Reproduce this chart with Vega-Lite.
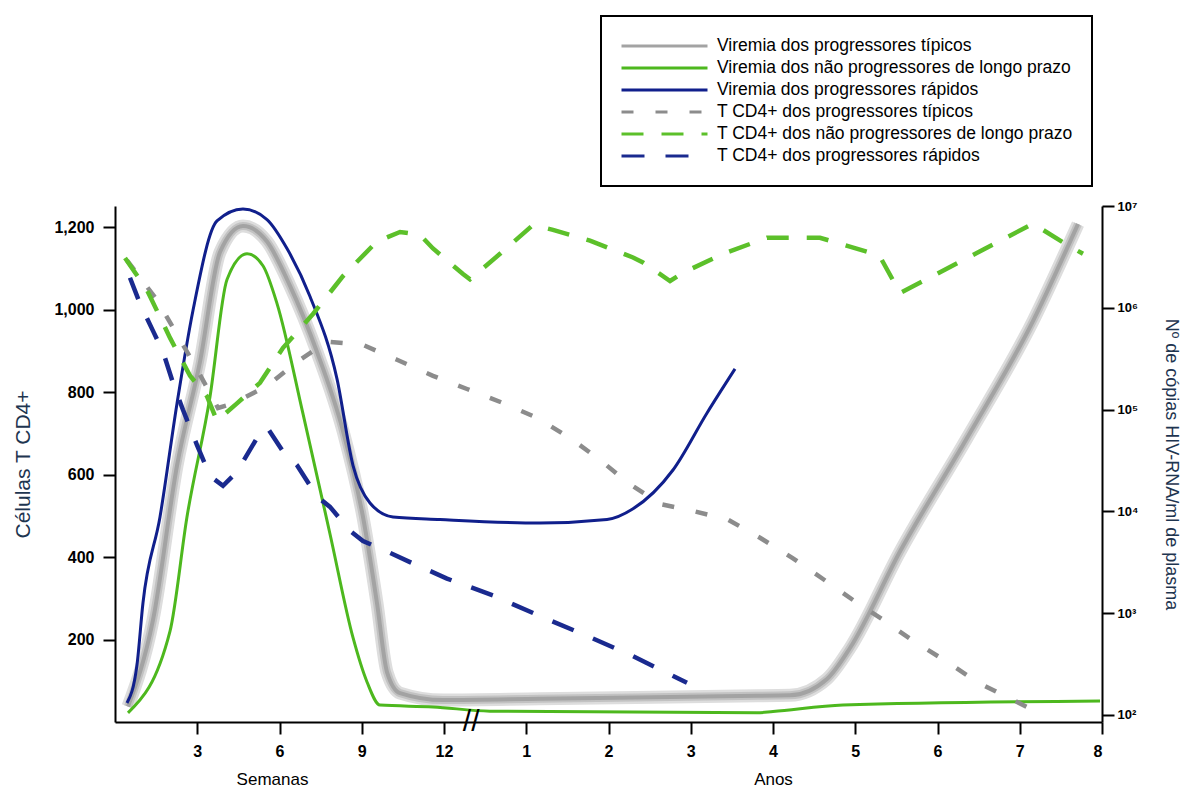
{
  "$schema": "https://vega.github.io/schema/vega-lite/v6.json",
  "width": 987,
  "height": 516,
  "autosize": {"type": "none"},
  "padding": {"left": 115, "top": 206, "right": 80, "bottom": 67},
  "background": "white",
  "config": {
    "font": "Liberation Sans",
    "view": {"stroke": null},
    "axis": {"grid": false, "domainColor": "black", "tickColor": "black", "labelColor": "black", "domainWidth": 2, "tickWidth": 2, "labelFont": "Liberation Sans", "titleFont": "Liberation Sans", "titleFontWeight": "normal"}
  },
  "datasets": {
    "viremia": [
      {"serie": "Viremia dos progressores típicos", "pos": 0.158, "copias": 121},
      {"serie": "Viremia dos progressores típicos", "pos": 0.462, "copias": 858},
      {"serie": "Viremia dos progressores típicos", "pos": 0.754, "copias": 28200},
      {"serie": "Viremia dos progressores típicos", "pos": 1.033, "copias": 294000},
      {"serie": "Viremia dos progressores típicos", "pos": 1.277, "copias": 3530000},
      {"serie": "Viremia dos progressores típicos", "pos": 1.556, "copias": 6350000},
      {"serie": "Viremia dos progressores típicos", "pos": 1.848, "copias": 4470000},
      {"serie": "Viremia dos progressores típicos", "pos": 2.128, "copias": 1640000},
      {"serie": "Viremia dos progressores típicos", "pos": 2.456, "copias": 368000},
      {"serie": "Viremia dos progressores típicos", "pos": 2.772, "copias": 61700},
      {"serie": "Viremia dos progressores típicos", "pos": 3.015, "copias": 8810},
      {"serie": "Viremia dos progressores típicos", "pos": 3.185, "copias": 1260},
      {"serie": "Viremia dos progressores típicos", "pos": 3.307, "copias": 264},
      {"serie": "Viremia dos progressores típicos", "pos": 3.465, "copias": 164},
      {"serie": "Viremia dos progressores típicos", "pos": 3.988, "copias": 140},
      {"serie": "Viremia dos progressores típicos", "pos": 5.167, "copias": 144},
      {"serie": "Viremia dos progressores típicos", "pos": 7.599, "copias": 154},
      {"serie": "Viremia dos progressores típicos", "pos": 8.207, "copias": 156},
      {"serie": "Viremia dos progressores típicos", "pos": 8.657, "copias": 226},
      {"serie": "Viremia dos progressores típicos", "pos": 8.936, "copias": 455},
      {"serie": "Viremia dos progressores típicos", "pos": 9.544, "copias": 4030},
      {"serie": "Viremia dos progressores típicos", "pos": 10.359, "copias": 52600},
      {"serie": "Viremia dos progressores típicos", "pos": 11.161, "copias": 741000},
      {"serie": "Viremia dos progressores típicos", "pos": 11.708, "copias": 6650000},
      {"serie": "Viremia dos progressores rápidos", "pos": 0.146, "copias": 131},
      {"serie": "Viremia dos progressores rápidos", "pos": 0.267, "copias": 310},
      {"serie": "Viremia dos progressores rápidos", "pos": 0.340, "copias": 1260},
      {"serie": "Viremia dos progressores rápidos", "pos": 0.547, "copias": 8810},
      {"serie": "Viremia dos progressores rápidos", "pos": 0.754, "copias": 115000},
      {"serie": "Viremia dos progressores rápidos", "pos": 0.948, "copias": 942000},
      {"serie": "Viremia dos progressores rápidos", "pos": 1.240, "copias": 7130000},
      {"serie": "Viremia dos progressores rápidos", "pos": 1.556, "copias": 9350000},
      {"serie": "Viremia dos progressores rápidos", "pos": 1.848, "copias": 7350000},
      {"serie": "Viremia dos progressores rápidos", "pos": 2.091, "copias": 3820000},
      {"serie": "Viremia dos progressores rápidos", "pos": 2.371, "copias": 1290000},
      {"serie": "Viremia dos progressores rápidos", "pos": 2.699, "copias": 200000},
      {"serie": "Viremia dos progressores rápidos", "pos": 2.894, "copias": 28200},
      {"serie": "Viremia dos progressores rápidos", "pos": 3.100, "copias": 12100},
      {"serie": "Viremia dos progressores rápidos", "pos": 3.380, "copias": 8810},
      {"serie": "Viremia dos progressores rápidos", "pos": 3.951, "copias": 8320},
      {"serie": "Viremia dos progressores rápidos", "pos": 5.167, "copias": 7690},
      {"serie": "Viremia dos progressores rápidos", "pos": 5.982, "copias": 8320},
      {"serie": "Viremia dos progressores rápidos", "pos": 6.298, "copias": 10600},
      {"serie": "Viremia dos progressores rápidos", "pos": 6.784, "copias": 25500},
      {"serie": "Viremia dos progressores rápidos", "pos": 7.198, "copias": 92700},
      {"serie": "Viremia dos progressores rápidos", "pos": 7.538, "copias": 251000},
      {"serie": "Viremia dos não progressores de longo prazo", "pos": 0.158, "copias": 105},
      {"serie": "Viremia dos não progressores de longo prazo", "pos": 0.669, "copias": 668},
      {"serie": "Viremia dos não progressores de longo prazo", "pos": 0.875, "copias": 8810},
      {"serie": "Viremia dos não progressores de longo prazo", "pos": 1.155, "copias": 134000},
      {"serie": "Viremia dos não progressores de longo prazo", "pos": 1.362, "copias": 1900000},
      {"serie": "Viremia dos não progressores de longo prazo", "pos": 1.605, "copias": 3400000},
      {"serie": "Viremia dos não progressores de longo prazo", "pos": 1.799, "copias": 2590000},
      {"serie": "Viremia dos não progressores de longo prazo", "pos": 1.970, "copias": 1100000},
      {"serie": "Viremia dos não progressores de longo prazo", "pos": 2.286, "copias": 90600},
      {"serie": "Viremia dos não progressores de longo prazo", "pos": 2.614, "copias": 6000},
      {"serie": "Viremia dos não progressores de longo prazo", "pos": 2.894, "copias": 574},
      {"serie": "Viremia dos não progressores de longo prazo", "pos": 3.064, "copias": 211},
      {"serie": "Viremia dos não progressores de longo prazo", "pos": 3.222, "copias": 125},
      {"serie": "Viremia dos não progressores de longo prazo", "pos": 3.866, "copias": 120},
      {"serie": "Viremia dos não progressores de longo prazo", "pos": 4.559, "copias": 109},
      {"serie": "Viremia dos não progressores de longo prazo", "pos": 7.805, "copias": 105},
      {"serie": "Viremia dos não progressores de longo prazo", "pos": 8.000, "copias": 108},
      {"serie": "Viremia dos não progressores de longo prazo", "pos": 8.851, "copias": 125},
      {"serie": "Viremia dos não progressores de longo prazo", "pos": 11.976, "copias": 137}
    ],
    "cd4": [
      {"serie": "T CD4+ dos progressores típicos", "pos": 0.146, "celulas": 1120},
      {"serie": "T CD4+ dos progressores típicos", "pos": 0.511, "celulas": 1024},
      {"serie": "T CD4+ dos progressores típicos", "pos": 0.754, "celulas": 940},
      {"serie": "T CD4+ dos progressores típicos", "pos": 0.973, "celulas": 865},
      {"serie": "T CD4+ dos progressores típicos", "pos": 1.252, "celulas": 762},
      {"serie": "T CD4+ dos progressores típicos", "pos": 1.435, "celulas": 773},
      {"serie": "T CD4+ dos progressores típicos", "pos": 1.848, "celulas": 815},
      {"serie": "T CD4+ dos progressores típicos", "pos": 2.213, "celulas": 874},
      {"serie": "T CD4+ dos progressores típicos", "pos": 2.578, "celulas": 923},
      {"serie": "T CD4+ dos progressores típicos", "pos": 3.015, "celulas": 915},
      {"serie": "T CD4+ dos progressores típicos", "pos": 3.429, "celulas": 879},
      {"serie": "T CD4+ dos progressores típicos", "pos": 3.866, "celulas": 840},
      {"serie": "T CD4+ dos progressores típicos", "pos": 4.280, "celulas": 808},
      {"serie": "T CD4+ dos progressores típicos", "pos": 4.717, "celulas": 774},
      {"serie": "T CD4+ dos progressores típicos", "pos": 5.131, "celulas": 738},
      {"serie": "T CD4+ dos progressores típicos", "pos": 5.532, "celulas": 689},
      {"serie": "T CD4+ dos progressores típicos", "pos": 5.897, "celulas": 636},
      {"serie": "T CD4+ dos progressores típicos", "pos": 6.225, "celulas": 582},
      {"serie": "T CD4+ dos progressores típicos", "pos": 6.626, "celulas": 529},
      {"serie": "T CD4+ dos progressores típicos", "pos": 7.027, "celulas": 512},
      {"serie": "T CD4+ dos progressores típicos", "pos": 7.453, "celulas": 491},
      {"serie": "T CD4+ dos progressores típicos", "pos": 7.842, "celulas": 447},
      {"serie": "T CD4+ dos progressores típicos", "pos": 8.243, "celulas": 397},
      {"serie": "T CD4+ dos progressores típicos", "pos": 8.608, "celulas": 347},
      {"serie": "T CD4+ dos progressores típicos", "pos": 8.973, "celulas": 296},
      {"serie": "T CD4+ dos progressores típicos", "pos": 9.337, "celulas": 248},
      {"serie": "T CD4+ dos progressores típicos", "pos": 9.702, "celulas": 197},
      {"serie": "T CD4+ dos progressores típicos", "pos": 10.116, "celulas": 146},
      {"serie": "T CD4+ dos progressores típicos", "pos": 10.480, "celulas": 97},
      {"serie": "T CD4+ dos progressores típicos", "pos": 11.283, "celulas": 17},
      {"serie": "T CD4+ dos não progressores de longo prazo", "pos": 0.122, "celulas": 1126},
      {"serie": "T CD4+ dos não progressores de longo prazo", "pos": 0.389, "celulas": 1048},
      {"serie": "T CD4+ dos não progressores de longo prazo", "pos": 0.669, "celulas": 932},
      {"serie": "T CD4+ dos não progressores de longo prazo", "pos": 0.912, "celulas": 840},
      {"serie": "T CD4+ dos não progressores de longo prazo", "pos": 1.119, "celulas": 790},
      {"serie": "T CD4+ dos não progressores de longo prazo", "pos": 1.240, "celulas": 731},
      {"serie": "T CD4+ dos não progressores de longo prazo", "pos": 1.483, "celulas": 773},
      {"serie": "T CD4+ dos não progressores de longo prazo", "pos": 1.763, "celulas": 823},
      {"serie": "T CD4+ dos não progressores de longo prazo", "pos": 2.043, "celulas": 908},
      {"serie": "T CD4+ dos não progressores de longo prazo", "pos": 2.407, "celulas": 990},
      {"serie": "T CD4+ dos não progressores de longo prazo", "pos": 2.772, "celulas": 1082},
      {"serie": "T CD4+ dos não progressores de longo prazo", "pos": 3.185, "celulas": 1166},
      {"serie": "T CD4+ dos não progressores de longo prazo", "pos": 3.465, "celulas": 1189},
      {"serie": "T CD4+ dos não progressores de longo prazo", "pos": 3.708, "celulas": 1182},
      {"serie": "T CD4+ dos não progressores de longo prazo", "pos": 3.866, "celulas": 1149},
      {"serie": "T CD4+ dos não progressores de longo prazo", "pos": 4.231, "celulas": 1087},
      {"serie": "T CD4+ dos não progressores de longo prazo", "pos": 4.316, "celulas": 1074},
      {"serie": "T CD4+ dos não progressores de longo prazo", "pos": 4.681, "celulas": 1136},
      {"serie": "T CD4+ dos não progressores de longo prazo", "pos": 5.082, "celulas": 1206},
      {"serie": "T CD4+ dos não progressores de longo prazo", "pos": 5.325, "celulas": 1194},
      {"serie": "T CD4+ dos não progressores de longo prazo", "pos": 5.775, "celulas": 1168},
      {"serie": "T CD4+ dos não progressores de longo prazo", "pos": 6.298, "celulas": 1127},
      {"serie": "T CD4+ dos não progressores de longo prazo", "pos": 6.419, "celulas": 1115},
      {"serie": "T CD4+ dos não progressores de longo prazo", "pos": 6.748, "celulas": 1070},
      {"serie": "T CD4+ dos não progressores de longo prazo", "pos": 6.906, "celulas": 1090},
      {"serie": "T CD4+ dos não progressores de longo prazo", "pos": 7.392, "celulas": 1136},
      {"serie": "T CD4+ dos não progressores de longo prazo", "pos": 7.927, "celulas": 1175},
      {"serie": "T CD4+ dos não progressores de longo prazo", "pos": 8.571, "celulas": 1175},
      {"serie": "T CD4+ dos não progressores de longo prazo", "pos": 9.143, "celulas": 1141},
      {"serie": "T CD4+ dos não progressores de longo prazo", "pos": 9.301, "celulas": 1129},
      {"serie": "T CD4+ dos não progressores de longo prazo", "pos": 9.544, "celulas": 1041},
      {"serie": "T CD4+ dos não progressores de longo prazo", "pos": 9.945, "celulas": 1082},
      {"serie": "T CD4+ dos não progressores de longo prazo", "pos": 10.553, "celulas": 1146},
      {"serie": "T CD4+ dos não progressores de longo prazo", "pos": 11.161, "celulas": 1209},
      {"serie": "T CD4+ dos não progressores de longo prazo", "pos": 11.574, "celulas": 1158},
      {"serie": "T CD4+ dos não progressores de longo prazo", "pos": 11.769, "celulas": 1136},
      {"serie": "T CD4+ dos progressores rápidos", "pos": 0.182, "celulas": 1078},
      {"serie": "T CD4+ dos progressores rápidos", "pos": 0.304, "celulas": 1015},
      {"serie": "T CD4+ dos progressores rápidos", "pos": 0.462, "celulas": 949},
      {"serie": "T CD4+ dos progressores rápidos", "pos": 0.584, "celulas": 898},
      {"serie": "T CD4+ dos progressores rápidos", "pos": 0.705, "celulas": 823},
      {"serie": "T CD4+ dos progressores rápidos", "pos": 0.827, "celulas": 757},
      {"serie": "T CD4+ dos progressores rápidos", "pos": 0.997, "celulas": 672},
      {"serie": "T CD4+ dos progressores rápidos", "pos": 1.155, "celulas": 597},
      {"serie": "T CD4+ dos progressores rápidos", "pos": 1.313, "celulas": 573},
      {"serie": "T CD4+ dos progressores rápidos", "pos": 1.483, "celulas": 607},
      {"serie": "T CD4+ dos progressores rápidos", "pos": 1.726, "celulas": 689},
      {"serie": "T CD4+ dos progressores rápidos", "pos": 1.848, "celulas": 715},
      {"serie": "T CD4+ dos progressores rápidos", "pos": 2.043, "celulas": 656},
      {"serie": "T CD4+ dos progressores rápidos", "pos": 2.213, "celulas": 623},
      {"serie": "T CD4+ dos progressores rápidos", "pos": 2.456, "celulas": 547},
      {"serie": "T CD4+ dos progressores rápidos", "pos": 2.614, "celulas": 522},
      {"serie": "T CD4+ dos progressores rápidos", "pos": 2.857, "celulas": 464},
      {"serie": "T CD4+ dos progressores rápidos", "pos": 3.015, "celulas": 439},
      {"serie": "T CD4+ dos progressores rápidos", "pos": 3.307, "celulas": 414},
      {"serie": "T CD4+ dos progressores rápidos", "pos": 3.587, "celulas": 388},
      {"serie": "T CD4+ dos progressores rápidos", "pos": 4.036, "celulas": 348},
      {"serie": "T CD4+ dos progressores rápidos", "pos": 4.596, "celulas": 307},
      {"serie": "T CD4+ dos progressores rápidos", "pos": 5.167, "celulas": 257},
      {"serie": "T CD4+ dos progressores rápidos", "pos": 5.739, "celulas": 209},
      {"serie": "T CD4+ dos progressores rápidos", "pos": 6.298, "celulas": 160},
      {"serie": "T CD4+ dos progressores rápidos", "pos": 6.954, "celulas": 95}
    ]
  },
  "layer": [
    {
      "data": {"name": "viremia"},
      "encoding": {
        "x": {"field": "pos", "type": "quantitative", "scale": {"domain": [0, 12], "nice": false, "zero": false},
          "axis": {"orient": "bottom", "values": [1,2,3,4,5,6,7,8,9,10,11,12], "labelExpr": "datum.value <= 4 ? datum.value * 3 : datum.value - 4", "labelFontSize": 16, "labelFontWeight": "bold", "tickSize": 12, "labelPadding": 9, "title": "Semanas", "titleX": 157, "titleY": 62, "titleBaseline": "alphabetic", "titleFontSize": 17, "titleColor": "black"}},
        "y": {"field": "copias", "type": "quantitative", "scale": {"type": "log", "domain": [85.3, 10000000], "nice": false},
          "axis": {"orient": "right", "values": [100, 1000, 10000, 100000, 1000000, 10000000], "labelExpr": "'10' + ['⁰','¹','²','³','⁴','⁵','⁶','⁷'][round(log(datum.value) / LN10)]", "labelFontSize": 13, "labelFontWeight": "bold", "tickSize": 12, "labelPadding": 3, "title": "Nº de cópias HIV-RNA/ml de plasma", "titleFontSize": 18, "titleColor": "#1e3550", "titlePadding": 24}}
      },
      "layer": [
        {
          "transform": [{"filter": "datum.serie === 'Viremia dos progressores típicos'"}],
          "mark": {"type": "line", "interpolate": "monotone", "strokeWidth": 13, "color": "#dddddd"}
        },
        {
          "transform": [{"filter": "datum.serie === 'Viremia dos progressores típicos'"}],
          "mark": {"type": "line", "interpolate": "monotone", "strokeWidth": 8, "color": "#c2c2c2"}
        },
        {
          "transform": [{"filter": "datum.serie === 'Viremia dos progressores típicos'"}],
          "mark": {"type": "line", "interpolate": "monotone", "strokeWidth": 4},
          "encoding": {
            "color": {"field": "serie", "type": "nominal",
              "scale": {"domain": ["Viremia dos progressores típicos", "Viremia dos não progressores de longo prazo", "Viremia dos progressores rápidos", "T CD4+ dos progressores típicos", "T CD4+ dos não progressores de longo prazo", "T CD4+ dos progressores rápidos"], "range": ["#a3a3a3", "#4db81e", "#101f8c", "#8c8c8c", "#5cc02a", "#1a2a8f"]}}
          }
        },
        {
          "transform": [{"filter": "datum.serie !== 'Viremia dos progressores típicos'"}],
          "mark": {"type": "line", "interpolate": "monotone", "strokeWidth": 3},
          "encoding": {
            "color": {"field": "serie", "type": "nominal"}
          }
        }
      ]
    },
    {
      "encoding": {
        "x": {"field": "pos", "type": "quantitative", "scale": {"domain": [0, 12], "nice": false, "zero": false},
          "axis": {"orient": "bottom", "labels": false, "ticks": false, "domain": false, "title": "Anos", "titleX": 658, "titleY": 62, "titleBaseline": "alphabetic", "titleFontSize": 17, "titleColor": "black"}},
        "y": {"field": "celulas", "type": "quantitative", "scale": {"domain": [0, 1252], "nice": false},
          "axis": {"orient": "left", "values": [200, 400, 600, 800, 1000, 1200], "format": ",d", "labelFontSize": 16, "labelFontWeight": "bold", "tickSize": 12, "labelPadding": 9, "title": "Células T CD4+", "titleFontSize": 21, "titleColor": "#1e3550", "titlePadding": 20}}
      },
      "layer": [
        {
          "data": {"name": "cd4"},
          "mark": {"type": "line", "interpolate": "linear", "strokeWidth": 4.5},
          "encoding": {
            "color": {"field": "serie", "type": "nominal",
              "legend": {"title": null, "orient": "none", "legendX": 486, "legendY": -190, "direction": "vertical", "symbolType": "stroke", "symbolSize": 7396, "symbolStrokeWidth": 3, "clipHeight": 22, "rowPadding": 0, "labelFontSize": 17.5, "labelFont": "Liberation Sans", "labelColor": "black", "labelOffset": 8, "labelLimit": 500, "padding": 19, "strokeColor": "black", "fillColor": "white", "encode": {"legend": {"update": {"strokeWidth": {"value": 2}}}}}},
            "strokeDash": {"field": "serie", "type": "nominal",
              "scale": {"domain": ["Viremia dos progressores típicos", "Viremia dos não progressores de longo prazo", "Viremia dos progressores rápidos", "T CD4+ dos progressores típicos", "T CD4+ dos não progressores de longo prazo", "T CD4+ dos progressores rápidos"], "range": [[1, 0], [1, 0], [1, 0], [12, 22], [22, 18], [23, 21]]},
              "legend": {"title": null, "orient": "none", "legendX": 486, "legendY": -190, "direction": "vertical", "symbolType": "stroke", "symbolSize": 7396, "symbolStrokeWidth": 3, "clipHeight": 22, "rowPadding": 0, "labelFontSize": 17.5, "labelFont": "Liberation Sans", "labelColor": "black", "labelOffset": 8, "labelLimit": 500, "padding": 19, "strokeColor": "black", "fillColor": "white", "encode": {"legend": {"update": {"strokeWidth": {"value": 2}}}}}}
          }
        },
        {
          "data": {"values": [{"pos": 4.33, "celulas": 0, "rotulo": "//"}]},
          "mark": {"type": "text", "fontSize": 30, "font": "Liberation Sans", "baseline": "middle", "align": "center", "color": "black"},
          "encoding": {"text": {"field": "rotulo", "type": "nominal"}}
        }
      ]
    }
  ],
  "resolve": {"scale": {"y": "independent"}, "axis": {"x": "independent"}}
}
